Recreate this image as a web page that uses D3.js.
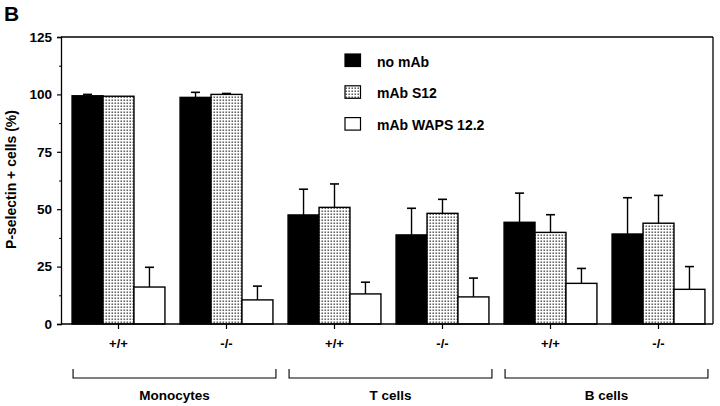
<!DOCTYPE html>
<html>
<head>
<meta charset="utf-8">
<script src="https://cdn.jsdelivr.net/npm/d3@7"></script>
<style>
  html, body { margin: 0; padding: 0; background: #fff; }
  svg { display: block; }
  text { font-family: "Liberation Sans", Arial, Helvetica, sans-serif; font-weight: bold; fill: #000; }
</style>
</head>
<body>
<svg id="chart" width="720" height="406"></svg>
<script>
// ---- Data ----
const groups = ["Mono +/+", "Mono -/-", "T +/+", "T -/-", "B +/+", "B -/-"];
const genotypeLabels = ["+/+", "-/-", "+/+", "-/-", "+/+", "-/-"];
const cellTypes = ["Monocytes", "T cells", "B cells"];
const seriesNames = ["no mAb", "mAb S12", "mAb WAPS 12.2"];
const noMAb      = [99.4, 98.7, 47.5, 38.8, 44.3, 39.2];
const noMAbErr   = [0.6, 2.2, 11.2, 11.6, 12.7, 15.8];
const s12        = [99.2, 100.0, 50.8, 48.2, 39.9, 43.9];
const s12Err     = [0, 0.4, 10.2, 6.1, 7.7, 12.1];
const waps       = [16.1, 10.5, 13.1, 11.8, 17.7, 15.1];
const wapsErr    = [8.6, 6.0, 5.1, 8.2, 6.5, 9.9];
const yTicks     = [0, 25, 50, 75, 100, 125];
const yMinorTicks = [12.5, 37.5, 62.5, 87.5, 112.5];

const seriesValues = [noMAb, s12, waps];
const seriesErrs = [noMAbErr, s12Err, wapsErr];

const svg = d3.select("#chart");

// pattern for stipple
const defs = svg.append("defs");
const pat = defs.append("pattern").attr("id", "stipple")
  .attr("width", 3).attr("height", 3).attr("patternUnits", "userSpaceOnUse");
pat.append("rect").attr("width", 3).attr("height", 3).attr("fill", "#fff");
pat.append("rect").attr("x", 0.5).attr("y", 0.5).attr("width", 1.4).attr("height", 1.4).attr("fill", "#3a3a3a");

const fills = ["#000", "url(#stipple)", "#fff"];

const pLeft = 61, pRight = 713, pTop = 37, pBottom = 324;

const y = d3.scaleLinear().domain([0, 125]).range([pBottom, pTop]);
const x0 = d3.scaleBand().domain(groups).range([64.5, 712.5]).paddingInner(0.14).paddingOuter(0.07);
const x1 = d3.scaleBand().domain(seriesNames).range([0, x0.bandwidth()]).padding(0);

// Panel letter
svg.append("text").attr("x", 4).attr("y", 21).attr("font-size", 21).text("B");

// Frame: top and right lines
svg.append("line").attr("x1", pLeft).attr("x2", pRight).attr("y1", pTop).attr("y2", pTop)
  .attr("stroke", "#000").attr("stroke-width", 1.6);
svg.append("line").attr("x1", pRight).attr("x2", pRight).attr("y1", pTop).attr("y2", pBottom)
  .attr("stroke", "#000").attr("stroke-width", 1.3);

// Y axis
const yAxis = d3.axisLeft(y).tickValues(yTicks).tickSize(4).tickPadding(5).tickFormat(d3.format("d"));
const gy = svg.append("g").attr("transform", `translate(${pLeft},0)`).call(yAxis);
gy.select(".domain").attr("stroke-width", 1.3);
gy.selectAll(".tick line").attr("stroke-width", 1.2);
gy.selectAll("text").attr("font-size", 13.5).attr("font-family", "'Liberation Sans', Arial, sans-serif").attr("font-weight", "bold");
const yMinor = d3.axisLeft(y).tickValues(yMinorTicks).tickSize(2).tickFormat("");
const gym = svg.append("g").attr("transform", `translate(${pLeft},0)`).call(yMinor);
gym.select(".domain").remove();

// Y title
svg.append("text")
  .attr("transform", `translate(16,${(pTop + pBottom) / 2 - 1}) rotate(-90)`)
  .attr("text-anchor", "middle").attr("font-size", 14)
  .text("P-selectin + cells (%)");

// Bars
const gGroups = svg.append("g").selectAll("g").data(groups).join("g")
  .attr("transform", d => `translate(${x0(d)},0)`);
seriesNames.forEach((s, si) => {
  gGroups.append("rect")
    .attr("x", x1(s))
    .attr("width", x1.bandwidth())
    .attr("y", (d, i) => y(seriesValues[si][i]))
    .attr("height", (d, i) => pBottom - y(seriesValues[si][i]))
    .attr("fill", fills[si]).attr("stroke", "#000").attr("stroke-width", 1.4);
  gGroups.each(function(d, i) {
    const e = seriesErrs[si][i];
    if (e <= 0) return;
    const cx = x1(s) + x1.bandwidth() / 2;
    const g = d3.select(this);
    g.append("line").attr("x1", cx).attr("x2", cx)
      .attr("y1", y(seriesValues[si][i])).attr("y2", y(seriesValues[si][i] + e))
      .attr("stroke", "#000").attr("stroke-width", 1.4);
    g.append("line").attr("x1", cx - 4.5).attr("x2", cx + 4.5)
      .attr("y1", y(seriesValues[si][i] + e)).attr("y2", y(seriesValues[si][i] + e))
      .attr("stroke", "#000").attr("stroke-width", 1.6);
  });
});

// X axis
const xAxis = d3.axisBottom(x0).tickSize(5).tickFormat((d, i) => genotypeLabels[i]).tickPadding(10);
const gx = svg.append("g").attr("transform", `translate(0,${pBottom})`).call(xAxis);
gx.select(".domain").attr("d", `M${pLeft},0H${pRight}`).attr("stroke-width", 1.4);
gx.selectAll(".tick line").attr("stroke-width", 1.2);
gx.selectAll("text").attr("font-size", 13).attr("font-family", "'Liberation Sans', Arial, sans-serif").attr("font-weight", "bold");

// Brackets
const bracketY = 378, bracketTop = 369;
cellTypes.forEach((c, ci) => {
  const a = x0(groups[ci * 2]) + 1;
  const b = x0(groups[ci * 2 + 1]) + x0.bandwidth() + 3;
  svg.append("path")
    .attr("d", `M${a},${bracketTop}V${bracketY}H${b}V${bracketTop}`)
    .attr("fill", "none").attr("stroke", "#000").attr("stroke-width", 1.1);
  svg.append("text").attr("x", (a + b) / 2).attr("y", 400).attr("text-anchor", "middle")
    .attr("font-size", 13.5).text(c);
});

// Legend
const legX = 345, legY0 = 54, legStep = 31.8;
seriesNames.forEach((s, si) => {
  const ly = legY0 + si * legStep;
  svg.append("rect").attr("x", legX).attr("y", ly).attr("width", 15.5).attr("height", 12.5)
    .attr("fill", fills[si]).attr("stroke", "#000").attr("stroke-width", 1.2);
  svg.append("text").attr("x", 377).attr("y", ly + 12.5).attr("font-size", 14).text(s);
});
</script>
</body>
</html>
